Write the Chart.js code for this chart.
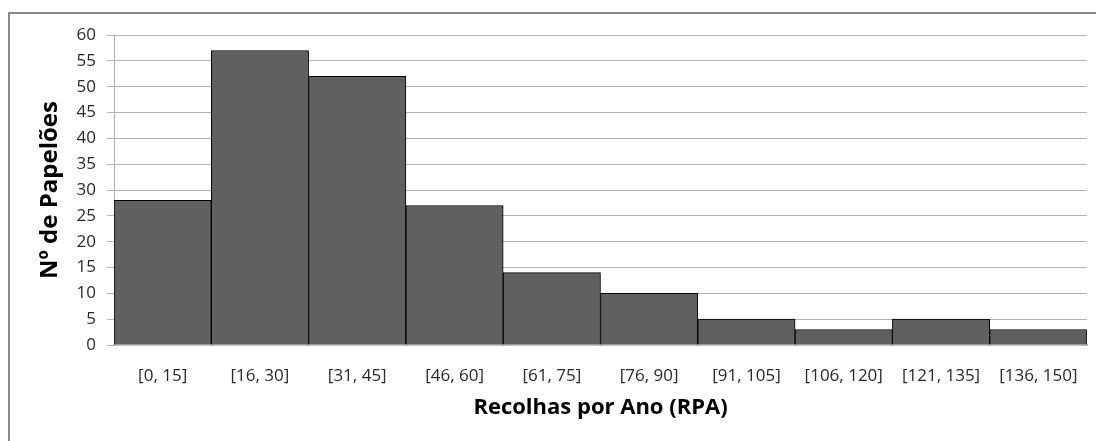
<!DOCTYPE html>
<html>
<head>
<meta charset="utf-8">
<script src="https://cdn.jsdelivr.net/npm/chart.js@4/dist/chart.umd.min.js"></script>
<style>
  html, body { margin: 0; padding: 0; background: #fff; overflow: hidden; }
  #wrap { position: relative; width: 1096px; height: 441px; }
  #frame { position: absolute; left: 8px; top: 12px; width: 1200px; height: 600px;
           border: 2px solid #8a8a8a; box-sizing: border-box; pointer-events: none; }
  canvas { position: absolute; left: 0; top: 0; }
</style>
</head>
<body>
<div id="wrap">
  <div id="frame"></div>
  <canvas id="c" width="1096" height="441"></canvas>
</div>
<script>
// Classes of collections per year and number of bins in each class
const categories = ['[0, 15]', '[16, 30]', '[31, 45]', '[46, 60]', '[61, 75]',
                    '[76, 90]', '[91, 105]', '[106, 120]', '[121, 135]', '[136, 150]'];
const counts = [28, 57, 52, 27, 14, 10, 5, 3, 5, 3];
const yTicks = { min: 0, max: 60, step: 5 };
const xTitle = 'Recolhas por Ano (RPA)';
const yTitle = 'Nº de Papelões';

const FONT = "'Open Sans', 'Noto Sans', sans-serif";
const GRID = '#b3b3b3';

new Chart(document.getElementById('c'), {
  type: 'bar',
  data: {
    labels: categories,
    datasets: [{
      data: counts,
      backgroundColor: '#606060',
      borderColor: '#000000',
      borderWidth: 1,
      categoryPercentage: 1.0,
      barPercentage: 1.0
    }]
  },
  options: {
    responsive: false,
    animation: false,
    devicePixelRatio: 1,
    layout: { padding: { top: 35, right: 9, left: 0, bottom: 0 } },
    plugins: { legend: { display: false }, tooltip: { enabled: false } },
    scales: {
      x: {
        grid: { display: false },
        border: { display: true, color: '#c0c0c0', width: 2 },
        ticks: { color: '#2a2a2a', font: { family: FONT, size: 17 }, padding: 13, maxRotation: 0, autoSkip: false },
        title: { display: true, text: xTitle, color: '#000', font: { family: FONT, size: 22, weight: 'bold' },
                 padding: { top: 0, bottom: 20 } },
        afterFit: s => { s.height = 96; }
      },
      y: {
        min: yTicks.min, max: yTicks.max,
        grid: { color: GRID, lineWidth: 1, tickLength: 7, drawTicks: true },
        border: { display: true, color: GRID, width: 1 },
        ticks: { stepSize: yTicks.step, color: '#2a2a2a', font: { family: FONT, size: 17 }, padding: 11 },
        title: { display: true, text: yTitle, color: '#000', font: { family: FONT, size: 24, weight: 'bold' },
                 padding: { top: 36, bottom: 0 } },
        afterFit: s => { s.width = 114; }
      }
    }
  }
});
</script>
</body>
</html>
